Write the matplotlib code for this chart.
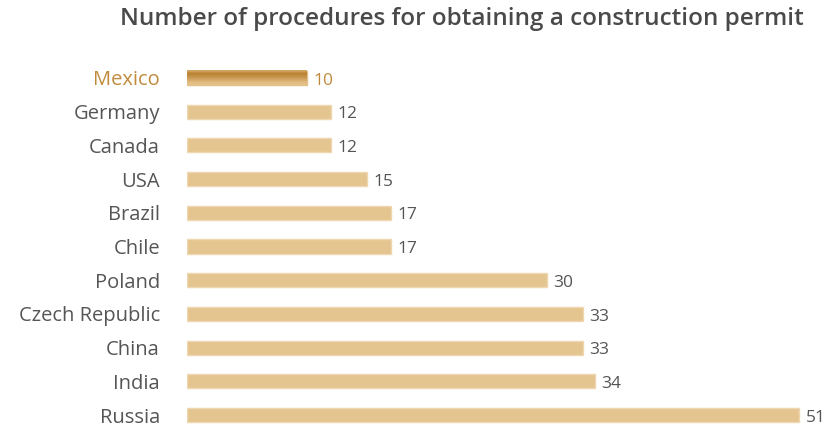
import matplotlib.pyplot as plt
import numpy as np
from matplotlib.colors import LinearSegmentedColormap

countries = ["Mexico", "Germany", "Canada", "USA", "Brazil", "Chile",
             "Poland", "Czech Republic", "China", "India", "Russia"]
procedures = [10, 12, 12, 15, 17, 17, 30, 33, 33, 34, 51]
highlight = "Mexico"

BAR = "#e4c590"
BAR_EDGE = "#eed7b0"
GOLD = "#c08a3c"
TEXT = "#555555"

plt.rcParams["font.family"] = ["Open Sans", "DejaVu Sans"]

fig = plt.figure(figsize=(8.27, 4.29), dpi=100)
ax = fig.add_axes([0.2261, 0.0, 0.769, 0.8575])

y = np.arange(len(countries))
h = 0.42
bars = ax.barh(y, procedures, height=h, color=BAR, edgecolor=BAR_EDGE, linewidth=1.0)

# darker gradient fill on the highlighted bar
for i, (name, bar) in enumerate(zip(countries, bars)):
    if name == highlight:
        bar.set_facecolor("none")
        bar.set_edgecolor("#e2c08a")
        grad = np.array([0.55, 0.0, 0.15, 0.35, 0.6, 0.85, 1.0]).reshape(-1, 1)
        cmap = LinearSegmentedColormap.from_list("g", ["#b98232", "#e6c28a"])
        ax.imshow(grad, cmap=cmap, aspect="auto", interpolation="bilinear",
                  extent=(0, procedures[i], i + h / 2, i - h / 2), zorder=1)

for i, v in enumerate(procedures):
    col = GOLD if countries[i] == highlight else TEXT
    ax.text(v + 0.55, i + 0.08, str(v), va="center", ha="left", fontsize=12.5, color=col)

ax.set_yticks(y)
ax.set_yticklabels(countries, fontsize=14.5)
for lbl in ax.get_yticklabels():
    lbl.set_color(GOLD if lbl.get_text() == highlight else TEXT)
ax.tick_params(axis="y", length=0, pad=19.5)
ax.set_xticks([])
ax.set_xlim(0, 53)
ax.set_ylim(10.415, -0.5)
for s in ax.spines.values():
    s.set_visible(False)

fig.text(0.559, 0.955, "Number of procedures for obtaining a construction permit",
         ha="center", va="center", fontsize=17.5, fontweight="semibold", color="#4a4a4a")

fig.savefig("out.png", dpi=100)
